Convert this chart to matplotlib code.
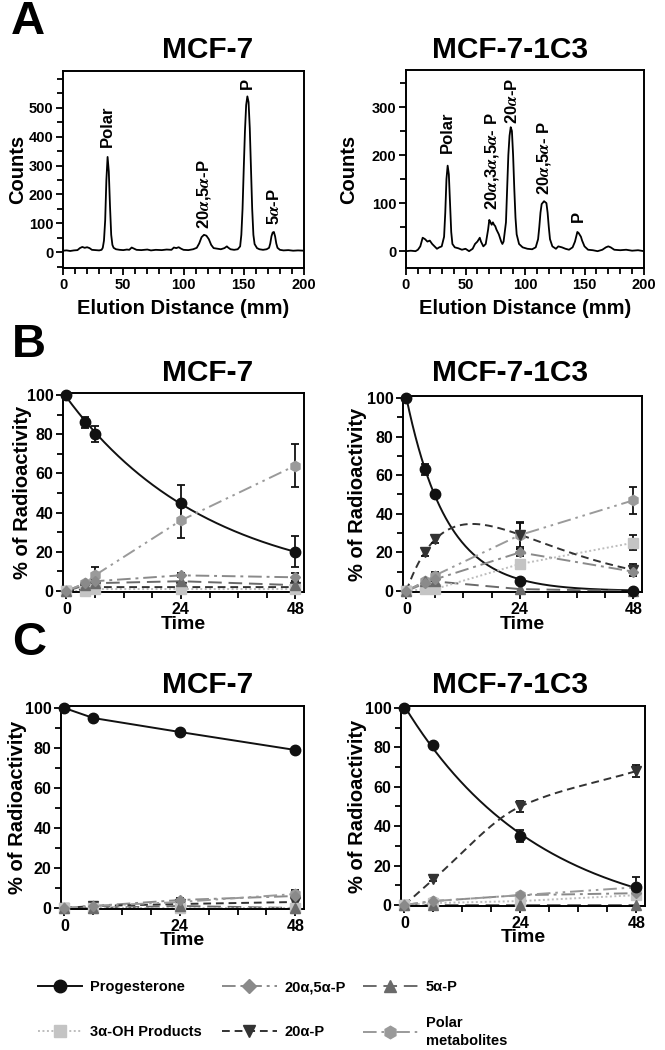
import numpy as np
import matplotlib
matplotlib.use('Agg')
import matplotlib.pyplot as plt
from matplotlib.ticker import MultipleLocator, FixedLocator
from matplotlib.lines import Line2D

plt.rcParams['font.family'] = ['Liberation Sans', 'DejaVu Sans']
plt.rcParams['font.weight'] = 'bold'
plt.rcParams['axes.labelweight'] = 'bold'
plt.rcParams['mathtext.fontset'] = 'stix'

# ---------------- Panel A data (radio-chromatograms) ----------------
x_mcf7 = [0, 3, 6, 9, 12, 14, 16, 18, 20, 22, 24, 27, 30, 32, 33, 34, 35, 36, 37, 38, 39, 40, 41, 42, 44,
          47, 50, 53, 55, 57, 59, 61, 65, 70, 73, 77, 82, 86, 90, 92, 94, 96, 98, 100, 104, 108, 111, 113,
          115, 117, 119, 121, 123, 125, 128, 131, 134, 136, 137, 139, 142, 145, 147, 148, 149, 150, 151,
          152, 153, 154, 155, 156, 157, 158, 159, 161, 163, 166, 169, 171, 172, 173, 174, 175, 176, 177,
          178, 180, 183, 187, 191, 195, 200]
counts_mcf7 = [5, 6, 4, 6, 7, 14, 18, 15, 17, 14, 8, 7, 6, 8, 15, 40, 110, 250, 330, 280, 160, 60, 25, 15, 10,
               8, 7, 9, 8, 16, 12, 8, 7, 9, 6, 8, 7, 9, 8, 16, 14, 17, 12, 8, 7, 10, 15, 30,
               52, 60, 57, 45, 25, 14, 12, 10, 14, 20, 16, 10, 8, 10, 20, 60, 150, 290, 420,
               510, 540, 520, 430, 290, 150, 60, 28, 14, 10, 8, 10, 15, 30, 55, 68, 70, 55, 30,
               15, 8, 6, 7, 5, 6, 5]

x_1c3 = [0, 4, 8, 10, 12, 14, 16, 18, 20, 22, 24, 26, 28, 30, 32, 33, 34, 35, 36, 37, 38, 39, 41, 44, 47,
         50, 53, 56, 58, 60, 62, 63, 65, 67, 69, 70, 71, 72, 73, 74, 75, 76, 78, 80, 81, 82, 84, 85, 86,
         87, 88, 89, 90, 91, 92, 93, 95, 98, 102, 106, 109, 111, 112, 113, 114, 116, 118, 119, 120, 121,
         123, 126, 128, 131, 134, 137, 140, 142, 144, 145, 147, 148, 150, 153, 157, 161, 165, 168, 170,
         172, 175, 180, 185, 190, 195, 200]
counts_1c3 = [0, 1, 0, 3, 10, 28, 25, 20, 22, 15, 10, 5, 8, 10, 30, 80, 150, 178, 160, 100, 40, 15, 8, 6, 3,
              5, 0, 5, 15, 20, 28, 20, 10, 15, 45, 65, 60, 55, 60, 55, 52, 45, 35, 20, 15, 20, 60, 130, 200,
              240, 258, 250, 200, 130, 70, 35, 15, 8, 5, 4, 8, 25, 50, 80, 98, 104, 100, 80, 50, 25,
              10, 5, 10, 8, 5, 3, 8, 20, 40, 38, 30, 22, 10, 3, 2, 0, 3, 8, 10,
              8, 3, 2, 3, 1, 2, 0]

# peak labels (text, x position, y position of label base)
peaks_mcf7 = [("Polar", 37, 365), (r"20$\alpha$,5$\alpha$-P", 117, 80), ("P", 153, 565), (r"5$\alpha$-P", 175, 95)]
peaks_1c3 = [("Polar", 35, 205), (r"20$\alpha$,3$\alpha$,5$\alpha$- P", 72, 85), (r"20$\alpha$-P", 89, 265),
             (r"20$\alpha$,5$\alpha$- P", 116, 117), ("P", 145, 60)]

# ---------------- Panels B & C data (% of radioactivity) ----------------
series_names = ["Progesterone", "20\u03b1,5\u03b1-P", "5\u03b1-P", "3\u03b1-OH Products", "20\u03b1-P",
                "Polar\nmetabolites"]

time_B = [0, 4, 6, 24, 48]
time_C = [0, 6, 24, 48]

# B, MCF-7
B1_prog = [100, 86, 80, 45, 20];     B1_prog_err = [0, 3, 4, 9, 8]
B1_2055 = [0, 4, 5, 8, 7];           B1_2055_err = [0, 1, 1, 1, 2]
B1_5a = [0, 3, 4, 5, 3];             B1_5a_err = [0, 0, 0, 0, 0]
B1_3oh = [0, 0, 1, 1, 1];            B1_3oh_err = [0, 0, 0, 0, 0]
B1_20a = [0, 1, 2, 2, 2];            B1_20a_err = [0, 0, 0, 0, 0]
B1_polar = [0, 4, 8, 36, 64];        B1_polar_err = [0, 1, 4, 9, 11]

# B, MCF-7-1C3
B2_prog = [100, 63, 50, 5, 0];       B2_prog_err = [0, 3, 1, 1, 0]
B2_2055 = [0, 4, 6, 20, 10];         B2_2055_err = [0, 1, 1, 2, 2]
B2_5a = [0, 5, 5, 1, 0];             B2_5a_err = [0, 0, 0, 0, 0]
B2_3oh = [0, 1, 1, 14, 25];          B2_3oh_err = [0, 0, 0, 2, 4]
B2_20a = [0, 20, 27, 29, 11];        B2_20a_err = [0, 2, 2, 6, 3]
B2_polar = [0, 5, 8, 29, 47];        B2_polar_err = [0, 1, 2, 7, 7]

# C, MCF-7
C1_prog = [100, 95, 88, 79];         C1_prog_err = [0, 1, 1, 1]
C1_2055 = [0, 1, 4, 6];              C1_2055_err = [0, 0, 1, 1]
C1_5a = [0, 0, 1, 0];                C1_5a_err = [0, 0, 0, 0]
C1_3oh = [0, 0, 0, 0];               C1_3oh_err = [0, 0, 0, 0]
C1_20a = [0, 1, 2, 3];               C1_20a_err = [0, 0, 0, 0]
C1_polar = [0, 1, 3, 7];             C1_polar_err = [0, 0, 1, 2]

# C, MCF-7-1C3
C2_prog = [100, 81, 35, 9];          C2_prog_err = [0, 1, 3, 1]
C2_2055 = [0, 2, 5, 6];              C2_2055_err = [0, 0, 1, 1]
C2_5a = [0, 0, 0, 0];                C2_5a_err = [0, 0, 0, 0]
C2_3oh = [0, 1, 2, 5];               C2_3oh_err = [0, 0, 0, 1]
C2_20a = [0, 13, 50, 68];            C2_20a_err = [0, 1, 3, 3]
C2_polar = [0, 2, 5, 9];             C2_polar_err = [0, 0, 1, 5]

# ---------------- styles ----------------
styles = {
    "prog":  dict(color='#111111', ls='-', marker='o', ms=7.5, mfc='#111111'),
    "2055":  dict(color='#8a8a8a', ls=(0, (7, 2.5, 1.5, 2.5)), marker='D', ms=5.5, mfc='#8a8a8a'),
    "5a":    dict(color='#6a6a6a', ls=(0, (7, 3.5)), marker='^', ms=7, mfc='#6a6a6a'),
    "3oh":   dict(color='#bdbdbd', ls=(0, (1, 1.3)), marker='s', ms=6.5, mfc='#c4c4c4'),
    "20a":   dict(color='#333333', ls=(0, (4, 2.5)), marker='v', ms=7, mfc='#333333'),
    "polar": dict(color='#9a9a9a', ls=(0, (7, 2.5, 1.3, 2.5, 1.3, 2.5)), marker='h', ms=7.5, mfc='#9a9a9a'),
}
order = ["prog", "2055", "5a", "3oh", "20a", "polar"]


def exp_fit(t, y, tt, offset=False):
    t = np.asarray(t, float); y = np.asarray(y, float)
    best = None
    for k in np.linspace(0.001, 0.6, 6000):
        b = np.exp(-k * t)
        if offset:
            M = np.column_stack([b, np.ones_like(b)])
            coef, *_ = np.linalg.lstsq(M, y, rcond=None)
            pred = M @ coef
        else:
            coef = np.array([b @ y / (b @ b), 0.0])
            pred = coef[0] * b
        sse = np.sum((pred - y) ** 2)
        if best is None or sse < best[0]:
            best = (sse, coef, k)
    _, coef, k = best
    return coef[0] * np.exp(-k * tt) + coef[1]


def bateman_fit(t, y, tt):
    t = np.asarray(t, float); y = np.asarray(y, float)
    best = None
    for a in np.linspace(0.002, 0.2, 120):
        for b in np.linspace(0.05, 1.5, 150):
            if b <= a:
                continue
            bs = np.exp(-a * t) - np.exp(-b * t)
            A = bs @ y / (bs @ bs)
            sse = np.sum((A * bs - y) ** 2)
            if best is None or sse < best[0]:
                best = (sse, A, a, b)
    _, A, a, b = best
    return A * (np.exp(-a * tt) - np.exp(-b * tt))


def pchip(x, y, xx):
    x = np.asarray(x, float); y = np.asarray(y, float)
    h = np.diff(x); d = np.diff(y) / h
    n = len(x); m = np.zeros(n)
    for k in range(1, n - 1):
        if d[k - 1] * d[k] <= 0:
            m[k] = 0
        else:
            w1 = 2 * h[k] + h[k - 1]; w2 = h[k] + 2 * h[k - 1]
            m[k] = (w1 + w2) / (w1 / d[k - 1] + w2 / d[k])
    m[0] = d[0]; m[-1] = d[-1]
    out = np.empty_like(xx)
    for i, v in enumerate(xx):
        k = min(max(np.searchsorted(x, v) - 1, 0), n - 2)
        s = (v - x[k]) / h[k]
        h00 = 2 * s**3 - 3 * s**2 + 1; h10 = s**3 - 2 * s**2 + s
        h01 = -2 * s**3 + 3 * s**2; h11 = s**3 - s**2
        out[i] = h00 * y[k] + h10 * h[k] * m[k] + h01 * y[k + 1] + h11 * h[k] * m[k + 1]
    return out


fig = plt.figure(figsize=(6.65, 10.5), dpi=100)
W, H = 665.0, 1050.0


def axpos(l, r, t, b):
    return [l / W, 1 - b / H, (r - l) / W, (b - t) / H]


def style_axis(ax, fs):
    for s in ax.spines.values():
        s.set_linewidth(1.4)
    ax.tick_params(which='both', direction='out', width=1.3, labelsize=fs, pad=2)
    ax.tick_params(which='major', length=5)
    ax.tick_params(which='minor', length=4)
    for lab in ax.get_xticklabels() + ax.get_yticklabels():
        lab.set_fontweight('bold')


# ---------------- Panel A ----------------
def chrom(ax, x, y, ylim, ymaj, peaks, ylab_x):
    ax.plot(x, y, color='black', lw=1.3)
    ax.set_xlim(0, 200)
    ax.set_ylim(*ylim)
    ax.xaxis.set_major_locator(MultipleLocator(50))
    ax.xaxis.set_minor_locator(MultipleLocator(10))
    ax.yaxis.set_major_locator(FixedLocator(ymaj))
    ax.yaxis.set_minor_locator(MultipleLocator(50))
    style_axis(ax, 10.5)
    ax.set_xlabel("Elution Distance (mm)", fontsize=14.5, fontweight='bold')
    ax.set_ylabel("Counts", fontsize=14.5, fontweight='bold')
    ax.xaxis.set_label_coords(0.5, -0.155)
    ax.yaxis.set_label_coords(ylab_x, 0.5)
    for txt, px, py in peaks:
        ax.text(px, py, txt, rotation=90, ha='center', va='bottom', fontsize=12, fontweight='bold')


axA1 = fig.add_axes(axpos(63, 304, 71, 268))
chrom(axA1, x_mcf7, counts_mcf7, (-55, 628), [0, 100, 200, 300, 400, 500], peaks_mcf7, -0.15)
axA2 = fig.add_axes(axpos(406, 644, 70, 268))
chrom(axA2, x_1c3, counts_1c3, (-35, 377), [0, 100, 200, 300], peaks_1c3, -0.20)


# ---------------- Panels B & C ----------------
def timecourse(ax, t, data, errs, fits, ylab_x, xlab_y):
    tt = np.linspace(0, 48, 300)
    for key in order:
        st = styles[key]
        y = data[key]
        fit = fits.get(key)
        if fit == 'exp':
            ax.plot(tt, exp_fit(t, y, tt), color=st['color'], ls=st['ls'], lw=1.4, zorder=2)
        elif fit == 'expoff':
            ax.plot(tt, exp_fit(t, y, tt, offset=True), color=st['color'], ls=st['ls'], lw=1.4, zorder=2)
        elif fit == 'bateman':
            ax.plot(tt, bateman_fit(t, y, tt), color=st['color'], ls=st['ls'], lw=1.4, zorder=2)
        elif fit == 'pchip':
            ax.plot(tt, pchip(t, y, tt), color=st['color'], ls=st['ls'], lw=1.4, zorder=2)
        else:
            ax.plot(t, y, color=st['color'], ls=st['ls'], lw=1.4, zorder=2)
    for key in order[::-1]:
        st = styles[key]
        e = np.asarray(errs[key], float)
        y = np.asarray(data[key], float)
        mask = e > 0.5
        if mask.any():
            ax.errorbar(np.asarray(t)[mask], y[mask], yerr=e[mask], fmt='none', ecolor='#111111',
                        elinewidth=1.3, capsize=3, capthick=1.3, zorder=3, clip_on=False)
        ax.plot(t, y, ls='none', marker=st['marker'], ms=st['ms'], mfc=st['mfc'], mec=st['mfc'],
                zorder=4 if key == 'prog' else 3.5, clip_on=False)
    ax.set_xlim(-0.7, 49.8)
    ax.set_ylim(-0.5, 101)
    ax.xaxis.set_major_locator(FixedLocator([0, 24, 48]))
    ax.xaxis.set_minor_locator(MultipleLocator(6))
    ax.yaxis.set_major_locator(MultipleLocator(20))
    ax.yaxis.set_minor_locator(MultipleLocator(10))
    style_axis(ax, 11.5)
    ax.set_xlabel("Time", fontsize=14, fontweight='bold')
    ax.set_ylabel("% of Radioactivity", fontsize=14.5, fontweight='bold')
    ax.xaxis.set_label_coords(0.5, xlab_y)
    ax.yaxis.set_label_coords(ylab_x, 0.5)


def pack(p, a, b, c, d, e):
    return {"prog": p, "2055": a, "5a": b, "3oh": c, "20a": d, "polar": e}


axB1 = fig.add_axes(axpos(63, 304, 393, 592))
timecourse(axB1, time_B, pack(B1_prog, B1_2055, B1_5a, B1_3oh, B1_20a, B1_polar),
           pack(B1_prog_err, B1_2055_err, B1_5a_err, B1_3oh_err, B1_20a_err, B1_polar_err),
           {"prog": 'exp'}, -0.13, -0.12)
axB2 = fig.add_axes(axpos(403, 642, 396, 592))
timecourse(axB2, time_B, pack(B2_prog, B2_2055, B2_5a, B2_3oh, B2_20a, B2_polar),
           pack(B2_prog_err, B2_2055_err, B2_5a_err, B2_3oh_err, B2_20a_err, B2_polar_err),
           {"prog": 'exp', "20a": 'bateman'}, -0.15, -0.12)
axC1 = fig.add_axes(axpos(61, 304, 706, 909))
timecourse(axC1, time_C, pack(C1_prog, C1_2055, C1_5a, C1_3oh, C1_20a, C1_polar),
           pack(C1_prog_err, C1_2055_err, C1_5a_err, C1_3oh_err, C1_20a_err, C1_polar_err),
           {}, -0.14, -0.115)
axC2 = fig.add_axes(axpos(401, 645, 706, 906))
timecourse(axC2, time_C, pack(C2_prog, C2_2055, C2_5a, C2_3oh, C2_20a, C2_polar),
           pack(C2_prog_err, C2_2055_err, C2_5a_err, C2_3oh_err, C2_20a_err, C2_polar_err),
           {"prog": 'expoff', "20a": 'pchip'}, -0.14, -0.115)

# ---------------- titles and panel letters ----------------
for (px, py, txt) in [(208, 50, "MCF-7"), (510, 50, "MCF-7-1C3"),
                      (208, 373, "MCF-7"), (510, 373, "MCF-7-1C3"),
                      (208, 685, "MCF-7"), (510, 685, "MCF-7-1C3")]:
    fig.text(px / W, 1 - py / H, txt, ha='center', va='center', fontsize=21.5, fontweight='bold')
for (px, py, txt) in [(28, 22, "A"), (29, 345, "B"), (29, 643, "C")]:
    fig.text(px / W, 1 - py / H, txt, ha='center', va='center', fontsize=34, fontweight='bold')

# ---------------- legend (one entry per slot, laid out on a 3 x 2 grid) ----------------
name_of = dict(zip(order, series_names))
slots = [("prog", 38, 987, 3.0), ("2055", 222, 987, 3.75), ("5a", 363, 987, 3.75),
         ("3oh", 38, 1032, 3.0), ("20a", 222, 1032, 3.75), ("polar", 363, 1032, 3.75)]
for key, px, py, hl in slots:
    st = styles[key]
    h = Line2D([], [], color=st['color'], ls=st['ls'], lw=1.4, marker=st['marker'],
               ms=st['ms'] + 1.5, mfc=st['mfc'], mec=st['mfc'])
    leg = fig.legend([h], [name_of[key]], loc='center left', bbox_to_anchor=(px / W, 1 - py / H),
                     frameon=False, prop=dict(size=10.5, weight='bold'), handlelength=hl,
                     handletextpad=0.55, borderpad=0, borderaxespad=0)
    for tx in leg.get_texts():
        tx.set_linespacing(1.45)

fig.savefig("out.png", dpi=100)
